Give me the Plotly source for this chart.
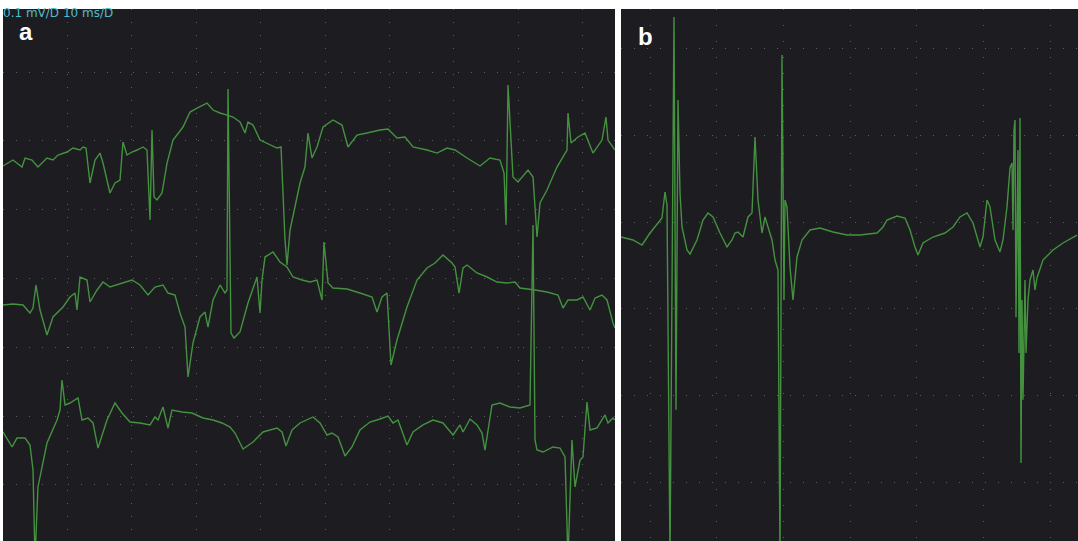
import plotly.graph_objects as go

# ---------------- Panel a (10 ms/div, 0.1 mV/div) : time in ms, amplitude in µV
a_top_t = [0, 1.55, 2.95, 3.42, 4.50, 5.43, 6.83, 7.76, 8.54, 9.94, 10.87, 11.96, 12.42, 12.89, 13.51, 14.29,
           15.06, 15.53, 16.61, 17.39, 18.17, 18.63, 19.25, 20.03, 20.81, 21.74, 22.36, 22.83, 23.14, 23.45,
           23.91, 24.69, 25.47, 26.40, 27.95, 29.04, 30.12, 31.68, 32.61, 33.70, 34.78, 35.71, 36.80, 37.58,
           38.04, 38.82, 39.91, 40.99, 42.55, 43.17, 43.79, 44.10, 44.57, 46.12, 46.89, 47.36, 47.98, 48.76,
           49.69, 51.24, 52.64, 53.57, 54.97, 56.52, 58.54, 59.78, 61.18, 62.42, 63.66, 65.84, 67.39, 68.94,
           70.19, 72.05, 74.07, 75.62, 77.17, 77.80, 78.11, 78.42, 79.19, 79.97, 81.52, 82.30, 82.92, 83.39,
           84.47, 86.02, 87.58, 87.73, 88.20, 89.29, 90.37, 91.61, 93.01, 93.63, 93.94, 95.03]
a_top_v = [163.5, 172.2, 162.0, 175.1, 172.2, 162.0, 175.1, 172.2, 179.4, 183.8, 189.6, 186.7, 191.1, 189.6,
           138.8, 172.2, 182.3, 167.8, 124.2, 138.8, 143.1, 198.3, 179.4, 183.8, 186.7, 191.1, 186.7, 85.0,
           215.8, 118.4, 114.1, 124.2, 167.8, 201.2, 220.1, 241.9, 247.7, 255.0, 244.8, 240.5, 237.5, 234.6,
           227.4, 211.4, 227.4, 223.0, 201.2, 196.9, 189.6, 191.1, 55.9, 19.6, 70.5, 138.8, 162.0, 211.4,
           175.1, 191.1, 220.1, 230.3, 223.0, 191.1, 208.5, 211.4, 215.8, 217.2, 204.1, 205.6, 191.1, 186.7,
           182.3, 189.6, 186.7, 175.1, 163.5, 175.1, 172.2, 153.3, 77.7, 281.1, 147.5, 140.2, 157.6, 147.5,
           60.3, 109.7, 128.6, 162.0, 186.7, 240.5, 196.9, 205.6, 211.4, 182.3, 201.2, 234.6, 201.2, 186.7]

a_mid_t = [0, 1.55, 3.11, 4.19, 4.66, 5.12, 5.75, 6.83, 7.76, 9.32, 10.40, 11.18, 11.49, 11.96, 13.04, 13.51,
           14.60, 15.53, 16.61, 17.70, 18.63, 20.03, 21.27, 22.52, 23.60, 24.84, 25.62, 26.71, 27.48, 28.26,
           28.73, 29.50, 30.59, 31.37, 31.83, 32.61, 33.70, 34.47, 34.78, 34.94, 35.40, 35.87, 36.80, 38.04,
           39.44, 39.91, 40.22, 40.68, 41.93, 43.01, 44.10, 45.03, 46.43, 47.67, 48.76, 49.53, 49.84, 50.47,
           51.24, 53.42, 55.43, 57.30, 58.07, 58.85, 59.63, 60.25, 61.18, 62.73, 64.29, 65.84, 67.08, 68.32,
           69.72, 70.19, 70.81, 71.43, 72.05, 73.60, 75.16, 76.71, 78.26, 79.50, 80.28, 81.83, 82.61, 84.47,
           86.18, 86.96, 87.73, 89.13, 90.06, 91.15, 91.93, 93.01, 93.79, 94.72, 95.03]
a_mid_v = [-38.5, -37.0, -38.5, -50.1, -42.9, -9.4, -45.8, -82.1, -55.9, -41.4, -26.9, -21.1, -45.8, 2.2,
           -2.2, -34.1, -16.7, -5.1, -12.4, -9.4, -6.5, -2.2, -9.4, -24.0, -12.4, -9.4, -21.1, -24.0, -50.1,
           -70.5, -143.1, -93.7, -55.9, -48.7, -70.5, -31.2, -9.4, -21.1, -16.7, 275.3, -79.2, -86.5, -77.7,
           -35.6, 2.2, -50.1, -2.2, 31.2, 38.5, 24.0, 16.7, 2.2, -2.2, -5.1, -2.2, -31.2, 53.0, -6.5, -13.8,
           -15.3, -21.1, -26.9, -48.7, -26.9, -21.1, -125.7, -89.4, -41.4, -2.2, 15.3, 22.5, 34.1, 22.5, 16.7,
           -21.1, 15.3, 19.6, 8.0, 2.2, -5.1, -6.5, -5.1, -13.8, -15.3, -16.7, -19.6, -24.0, -42.9, -31.2,
           -31.2, -26.9, -45.8, -28.3, -24.0, -31.2, -64.7, -71.9]

a_bot_t = [0, 1.40, 2.17, 3.42, 4.19, 4.66, 4.97, 5.43, 6.83, 8.39, 8.85, 9.16, 9.63, 10.40, 11.65, 12.27,
           13.20, 13.98, 14.75, 16.15, 17.39, 18.48, 19.72, 21.27, 22.83, 23.60, 24.07, 24.84, 25.62, 26.24,
           27.80, 29.35, 31.06, 32.61, 34.01, 35.25, 36.02, 37.27, 38.82, 40.37, 42.55, 43.32, 43.94, 44.88,
           46.12, 47.20, 48.14, 49.22, 50.31, 51.09, 52.02, 53.11, 54.19, 55.43, 56.99, 58.54, 59.78, 60.56,
           61.34, 62.73, 63.66, 65.22, 66.77, 68.32, 69.88, 70.96, 71.43, 72.52, 73.60, 74.38, 74.84, 75.93,
           77.17, 78.73, 80.28, 81.83, 82.14, 82.30, 82.61, 82.92, 83.85, 85.40, 86.49, 87.27, 87.73, 88.35,
           88.82, 89.60, 90.06, 90.68, 91.15, 92.24, 93.48, 93.94, 94.72, 95.03]
a_bot_v = [-223.0, -244.8, -231.8, -231.8, -241.9, -278.2, -409.0, -302.9, -239.0, -205.6, -191.1, -147.5,
           -183.8, -180.9, -173.6, -205.6, -202.7, -209.9, -246.3, -205.6, -180.9, -195.4, -208.5, -209.9,
           -212.8, -201.2, -205.6, -186.7, -217.2, -191.1, -194.0, -195.4, -202.7, -205.6, -209.9, -215.8,
           -224.5, -247.7, -237.5, -223.0, -217.2, -223.0, -243.4, -220.1, -209.9, -205.6, -201.2, -209.9,
           -227.4, -224.5, -230.3, -257.9, -244.8, -220.1, -208.5, -204.1, -199.8, -209.9, -205.6, -241.9,
           -223.0, -212.8, -205.6, -209.9, -227.4, -212.8, -223.0, -204.1, -212.8, -224.5, -249.2, -183.8,
           -180.9, -186.7, -188.2, -183.8, -31.2, 77.7, -234.6, -249.2, -252.1, -244.8, -246.3, -259.3, -409.0,
           -234.6, -302.9, -263.7, -259.3, -179.4, -220.1, -217.2, -198.3, -209.9, -202.7, -205.6]

# ---------------- Panel b : time in ms, amplitude in µV
b_t = [5.65, 7.45, 8.80, 10.0, 11.2, 11.8, 12.25, 12.55, 13.0, 13.3, 13.6, 13.9, 14.2, 14.5, 14.8, 15.55,
       16.0, 17.05, 17.95, 18.7, 19.45, 20.5, 21.55, 22.3, 22.75, 23.2, 23.95, 24.7, 25.3, 25.75, 26.2,
       26.8, 27.25, 27.7, 28.3, 28.75, 29.2, 29.5, 29.8, 30.1, 30.25, 30.55, 31.0, 31.45, 32.05, 32.8,
       34.0, 35.5, 37.45, 39.55, 41.5, 44.05, 44.95, 45.55, 47.05, 48.25, 49.0, 49.75, 50.2, 50.95, 52.45,
       54.25, 55.45, 56.5, 57.55, 58.45, 59.5, 59.95, 60.55, 61.0, 61.75, 62.5, 62.95, 63.55, 64.0, 64.3,
       64.45, 64.6, 64.75, 64.9, 65.05, 65.2, 65.35, 65.5, 65.65, 65.8, 65.95, 66.25, 66.4, 66.7, 67.0,
       67.45, 67.75, 68.05, 68.95, 70.45, 71.95, 74.05]
b_v = [-17.2, -20.6, -26.4, -12.6, -1.0, 4.7, 34.7, 19.7, -389.0, -89.7, 236.3, -216.3, 140.7, 33.5, -5.6,
       -32.1, -36.8, -20.6, 2.4, 10.5, 5.9, -12.6, -28.7, -20.6, -12.6, -11.4, -17.2, 5.9, 10.5, 98.0, 25.5,
       -12.6, 5.9, -5.6, -20.6, -43.7, -55.2, -389.0, 192.5, -89.7, 25.5, 17.4, -51.7, -89.7, -40.2, -20.6,
       -9.1, -6.8, -11.4, -14.9, -14.9, -12.6, -5.6, 2.4, 7.0, 4.7, -9.1, -28.7, -37.9, -24.1, -17.2, -12.6,
       -5.6, 5.9, 10.5, -1.0, -28.7, -17.2, 25.5, 17.4, -20.6, -34.4, -20.6, 17.4, 62.3, 68.0, -9.1, 106.0,
       117.5, -109.5, -32.1, 83.1, -150.9, 119.8, -277.5, -89.7, -204.8, -66.7, -150.9, -89.7, -66.7, -55.2,
       -78.2, -64.4, -43.7, -32.1, -24.1, -14.9]

scale_label = "0.1 mV/D 10 ms/D"

TRACE = "#44923f"
BG = "#1d1c21"
GRID = "rgba(120,120,128,0.7)"

fig = go.Figure()
for t, v in [(a_top_t, a_top_v), (a_mid_t, a_mid_v), (a_bot_t, a_bot_v)]:
    fig.add_trace(go.Scatter(x=t, y=v, mode="lines", line=dict(color=TRACE, width=1.4),
                             xaxis="x", yaxis="y", hoverinfo="skip", showlegend=False))
fig.add_trace(go.Scatter(x=b_t, y=b_v, mode="lines", line=dict(color=TRACE, width=1.4),
                         xaxis="x2", yaxis="y2", hoverinfo="skip", showlegend=False))

common = dict(showticklabels=False, zeroline=False, showline=False, ticks="",
              showgrid=True, gridcolor=GRID, gridwidth=1)
ytop = 1 - 9 / 541
fig.update_layout(
    width=1078, height=541,
    margin=dict(l=0, r=0, t=0, b=0),
    paper_bgcolor="white", plot_bgcolor=BG,
    xaxis=dict(domain=[3 / 1078, 615 / 1078], range=[0, 95.03], tick0=0, dtick=10,
               griddash="1px,12px", **common),
    yaxis=dict(domain=[0, ytop], range=[-381.4, 391.6], tick0=0, dtick=100,
               griddash="1px,12px", **common),
    xaxis2=dict(domain=[621 / 1078, 1], range=[5.65, 74.2], tick0=0, dtick=10,
                griddash="1px,15px", anchor="y2", **common),
    yaxis2=dict(domain=[0, ytop], range=[-367.4, 245.5], tick0=0, dtick=100,
                griddash="1px,12px", anchor="x2", **common),
    annotations=[
        dict(text=scale_label, x=3 / 1078, y=ytop, xref="paper", yref="paper",
             xanchor="left", yanchor="top", showarrow=False, yshift=5, xshift=-2,
             font=dict(family="DejaVu Sans", size=12, color="#4fbccc")),
        dict(text="<b>a</b>", x=17 / 1078, y=1 - 31.5 / 541, xref="paper", yref="paper",
             xanchor="left", yanchor="middle", showarrow=False,
             font=dict(family="Liberation Sans", size=24, color="white")),
        dict(text="<b>b</b>", x=636 / 1078, y=1 - 37 / 541, xref="paper", yref="paper",
             xanchor="left", yanchor="middle", showarrow=False,
             font=dict(family="Liberation Sans", size=24, color="white")),
    ],
)

fig.write_html("out.html", config={"displayModeBar": False},
               post_script="document.body.style.margin='0';")
